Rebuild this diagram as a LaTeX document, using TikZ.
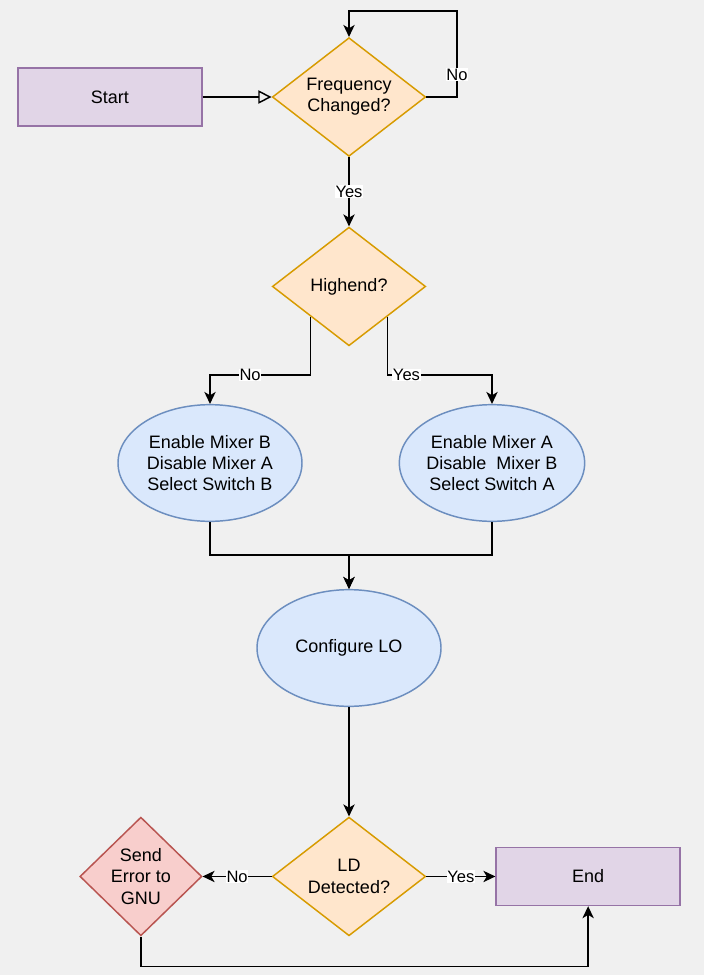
\documentclass[tikz,border=0pt]{standalone}
\usepackage{fontspec}
\setmainfont{Liberation Sans}
\usepackage{tikz}
\usetikzlibrary{shapes.geometric, arrows.meta, positioning, calc}
\usepackage{xcolor}
\definecolor{cBack}{RGB}{240,240,240}
\definecolor{cTerm}{HTML}{E1D5E7}
\definecolor{cTermLine}{HTML}{9673A6}
\definecolor{cAsk}{HTML}{FFE6CC}
\definecolor{cAskLine}{HTML}{D79B00}
\definecolor{cStep}{HTML}{DAE8FC}
\definecolor{cStepLine}{HTML}{6C8EBF}
\definecolor{cErr}{HTML}{F8CECC}
\definecolor{cErrLine}{HTML}{B85450}

\begin{document}
\begin{tikzpicture}[x=0.75pt, y=-0.75pt, font=\fontsize{13.5}{16}\selectfont,
  term/.style={draw=cTermLine, fill=cTerm, line width=1.1pt, minimum width=138pt, minimum height=43.5pt},
  ask/.style={diamond, shape aspect=1.3, draw=cAskLine, fill=cAsk, line width=1.1pt, inner sep=0pt, align=center, minimum width=115pt, minimum height=89pt},
  stepell/.style={ellipse, draw=cStepLine, fill=cStep, line width=1.1pt, inner sep=0pt, align=center, minimum width=138pt, minimum height=87.5pt},
  lbl/.style={fill=white, inner sep=0.5pt, font=\fontsize{12.4}{14}\selectfont},
  arr/.style={-{Stealth[length=9pt, width=8.5pt, inset=2.5pt]}, line width=1.1pt},
  arrOpen/.style={-{Triangle[open, length=10pt, width=10pt]}, line width=1.1pt}]
  \useasboundingbox[fill=cBack] (0,0) rectangle (704,975);
  % top: start and the two questions
  \node[ask] (freq) at (349,97) {Frequency\\Changed?};
  \node[term, left=51.75pt of freq] (start) {Start};
  \node[ask, below=52pt of freq] (high) {Highend?};
  % the two branches
  \node[stepell] (enB) at (210,463) {Enable Mixer B\\Disable Mixer A\\Select Switch B};
  \node[stepell] (enA) at (492,463) {Enable Mixer A\\Disable\ \ Mixer B\\Select Switch A};
  \node[stepell] (lo) at (349,648) {Configure LO};
  % lock detect and the end
  \node[ask, below=82pt of lo] (ld) {LD\\Detected?};
  \node[ask, shape aspect=1, draw=cErrLine, fill=cErr, minimum width=91.5pt, left=51.75pt of ld] (send) {Send\\Error to\\GNU};
  \node[term, right=51.75pt of ld] (stop) {End};

  \draw[arrOpen] (start.east) -- (freq.west);
  \draw[arr] (freq.east) -| node[lbl, pos=0.63]{No} ($(freq.north)+(108,-26)$) -| (freq.north);
  \draw[arr] (freq) -- node[lbl]{Yes} (high);
  \draw[arr] (high.south west) -- ++(0,58.5) -| node[lbl, pos=0.3]{No} (enB.north);
  \draw[arr] (high.south east) -- ++(0,58.5) -| node[lbl, pos=0.09]{Yes} (enA.north);
  \draw[arr] (enB.south) -- ++(0,33) -| (lo.north);
  \draw[arr] (enA.south) -- ++(0,33) -| (lo.north);
  \draw[arr] (lo) -- (ld);
  \draw[arr] (ld) -- node[lbl]{No} (send);
  \draw[arr] (ld) -- node[lbl]{Yes} (stop);
  \draw[arr] (send.south) -- ++(0,30) -| (stop.south);
\end{tikzpicture}
\end{document}
